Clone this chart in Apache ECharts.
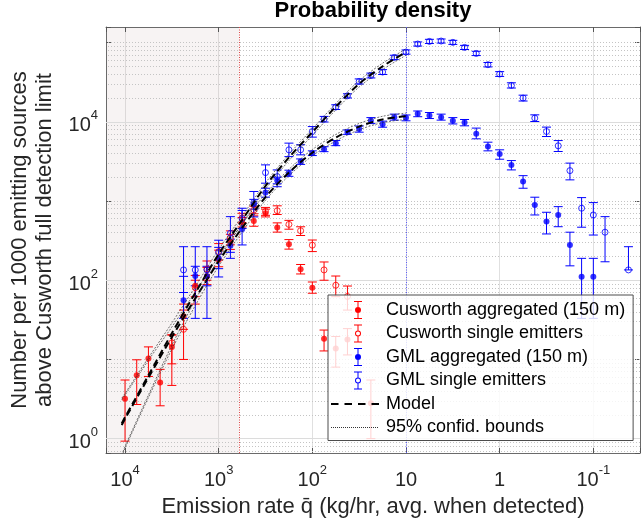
<!DOCTYPE html>
<html><head><meta charset="utf-8">
<script src="https://cdn.jsdelivr.net/npm/echarts@6/dist/echarts.min.js"></script>
<style>html,body{margin:0;padding:0;background:#fff}#c{width:641px;height:523px}</style>
</head><body><div id="c"></div><script>
// ---------------- DATA ----------------
// bin centres (kg/hr), 1/8-decade bins from 10^4 down to ~10^-1.4
const binX = [10000, 7499, 5623, 4217, 3162, 2371, 1778, 1334, 1000, 749.9, 562.3, 421.7, 316.2, 237.1, 177.8, 133.4, 100, 74.99, 56.23, 42.17, 31.62, 23.71, 17.78, 13.34, 10, 7.499, 5.623, 4.217, 3.162, 2.371, 1.778, 1.334, 1, 0.7499, 0.5623, 0.4217, 0.3162, 0.2371, 0.1778, 0.1334, 0.1, 0.07499, 0.05623, 0.04217];

// Cusworth aggregated (150 m)
const cusAggY  = [3.2, 6.3, 10.3, 5.1, 14.4, 35, 85, 112, 182, 304, 540, 560, 703, 462, 284, 138, 80.6, 18.2, 13.7, 17.8, null, 2.8];
const cusAggLo = [0.93, 2.7, 6.1, 2.6, 8.8, 24, 62, 88, 148, 245, 470, 480, 630, 405, 247, 120, 68.5, 12.8, 8.0, 11.4, null, 1.0];
const cusAggHi = [5.5, 9.9, 14.4, 7.5, 20.4, 50, 115, 145, 240, 380, 620, 650, 790, 530, 326, 158, 95, 23.5, 19.5, 24.5, null, 5.5];

// Cusworth single emitters
const cusSglY  = [null, null, null, null, 16.2, 24, 80.5, 138, 230, 340, 611, 771, 740, 754, 507, 422, 277, 135, 86.5, 62.4];
const cusSglLo = [null, null, null, null, 4.7, 10, 50, 100, 180, 280, 530, 690, 660, 676, 441, 367, 230, 100, 62, 42];
const cusSglHi = [null, null, null, null, 20.4, 42, 100, 175, 290, 420, 700, 860, 830, 870, 570, 473, 322, 170, 113, 84.5];

// GML aggregated (150 m)
const gmlAggY  = [null, null, null, null, null, 56, 113, 112, 190, 273, 441, 912, 1277, 1811, 2245, 3150, 4020, 4520, 5380, 7410, 8090, 10380, 9350, 11460, 11230, 12620, 12020, 11460, 10300, 9800, 7050, 4880, 3910, 2860, 1760, 893, 550, 667, 279, 111, 111];
const gmlAggLo = [null, null, null, null, null, 33, 85, 85, 140, 225, 279, 790, 1120, 1650, 2050, 2900, 3750, 4200, 5000, 6950, 7400, 9500, 8550, 10500, 10300, 11600, 11000, 10500, 9400, 8900, 6100, 4300, 3370, 2470, 1450, 667, 384, 474, 152, 33, 33];
const gmlAggHi = [null, null, null, null, null, 112, 150, 150, 260, 330, 811, 1050, 1450, 2000, 2450, 3400, 4300, 4850, 5800, 7900, 8850, 11300, 10200, 12500, 12200, 13700, 13100, 12500, 11300, 10700, 8330, 5530, 4430, 3240, 2090, 1117, 721, 849, 404, 189, 189];

// GML single emitters
const gmlSglY  = [null, null, null, null, null, 135, 135, 135, 225, 392, 600, 955, 2285, 2033, 4430, 4430, 7540, 10810, 15350, 21300, 32300, 38400, 42500, 65000, 76000, 96000, 103500, 104700, 100700, 86900, 73000, 52600, 40100, 28800, 19950, 11140, 7540, 4980, 2420, 811, 667, 404, null, 135];
const gmlSglLo = [null, null, null, null, null, 70, 33, 33, 110, 189, 450, 630, 1680, 1515, 3640, 3830, 6410, 9950, 14300, 20000, 30000, 35800, 39600, 61000, 71500, 90500, 97500, 98700, 94900, 81800, 68600, 49300, 37400, 26700, 18300, 10090, 6520, 4220, 1850, 467, 372, 171, null, 135];
const gmlSglHi = [null, null, null, null, null, 265, 265, 265, 320, 635, 760, 1320, 2860, 2470, 5380, 5130, 8710, 11700, 16400, 22600, 34800, 41200, 45600, 69300, 80800, 102000, 110000, 111000, 106800, 92300, 77700, 56100, 43000, 31100, 21700, 12250, 8570, 5800, 3010, 1104, 955, 635, null, 265];

// Model fits and 95% confidence bounds
const modelX   = [10840, 10000, 5623, 3162, 1778, 1000, 562.3, 316.2, 177.8, 100, 56.23, 31.62, 17.78, 10];
const modelSgl = [1.55, 1.86, 6.3, 21.4, 69, 214, 575, 1549, 3548, 7413, 15490, 30200, 50100, 75900];
const sglUpper = [3.24, 3.72, 10.5, 28.8, 83.2, 245, 646, 1698, 3890, 8130, 17000, 33100, 55000, 83200];
const sglLower = [0.617, 0.794, 3.55, 15.1, 56.2, 186, 513, 1413, 3236, 6761, 14130, 27540, 45700, 69200];
const modelAgg = [1.48, 1.78, 5.9, 19.1, 58.9, 174, 457, 1122, 2291, 4074, 6310, 8710, 10720, 11750];
const aggUpper = [3.09, 3.55, 9.77, 25.7, 70.8, 200, 513, 1230, 2512, 4467, 6918, 9550, 11750, 12880];
const aggLower = [0.589, 0.759, 3.31, 13.5, 47.9, 151, 407, 1023, 2089, 3715, 5754, 7943, 9772, 10720];

// reference lines
const detectLimit = 600;   // kg/hr, shaded region edge
const peakLine = 10;       // kg/hr

// axis extents
const X_MIN = 0.03175, X_MAX = 15960, Y_MIN = 0.659, Y_MAX = 157400;

// ---------------- CHART ----------------
const FONT = '"Liberation Sans", Arial, Helvetica, sans-serif';
const RED = '#ff0000', BLUE = '#0000ff';
const TXT = '#262626';
const NAMES = ['Cusworth aggregated (150 m)', 'Cusworth single emitters', 'GML aggregated (150 m)', 'GML single emitters', 'Model', '95% confid. bounds'];

function pts(xs, ys) { const o = []; for (let i = 0; i < ys.length; i++) if (ys[i] != null) o.push([xs[i], ys[i]]); return o; }
function errPts(xs, ys, lo, hi) { const o = []; for (let i = 0; i < ys.length; i++) if (ys[i] != null) o.push([xs[i], ys[i], lo[i], hi[i]]); return o; }

function errRender(color) {
  return function (params, api) {
    const x = api.value(0), lo = api.value(2), hi = api.value(3);
    const a = api.coord([x, hi]), b = api.coord([x, lo]);
    const w = 4.5;
    const st = { stroke: color, lineWidth: 1, fill: null };
    return { type: 'group', children: [
      { type: 'line', shape: { x1: a[0], y1: a[1], x2: b[0], y2: b[1] }, style: st },
      { type: 'line', shape: { x1: a[0] - w, y1: a[1], x2: a[0] + w, y2: a[1] }, style: st },
      { type: 'line', shape: { x1: b[0] - w, y1: b[1], x2: b[0] + w, y2: b[1] }, style: st }
    ]};
  };
}

function errSeries(name, color, xs, ys, lo, hi) {
  return { type: 'custom', name: name, renderItem: errRender(color), data: errPts(xs, ys, lo, hi),
    encode: { x: 0, y: 1 }, clip: true, silent: true, z: 2 };
}
function markSeries(name, color, xs, ys, hollow) {
  return { type: 'scatter', name: name, data: pts(xs, ys), symbol: 'circle', symbolSize: hollow ? 6 : 6,
    itemStyle: hollow ? { color: 'rgba(0,0,0,0)', borderColor: color, borderWidth: 1 } : { color: color, borderWidth: 0 },
    silent: true, z: 2 };
}

const rich = {
  b: { fontSize: 20, fontFamily: FONT, color: TXT, padding: [8, 0, 0, 0] },
  s: { fontSize: 13, fontFamily: FONT, color: TXT, padding: [0, 0, 12, 0] }
};
function xLabel(v) {
  const e = Math.log10(v), r = Math.round(e);
  if (Math.abs(e - r) > 0.01) return '';
  if (r === 0) return '{b|1}';
  if (r === 1) return '{b|10}';
  return '{b|10}{s|' + r + '}';
}
function yLabel(v) {
  const e = Math.log10(v), r = Math.round(e);
  if (Math.abs(e - r) > 0.01 || r % 2 !== 0) return '';
  return '{b|10}{s|' + r + '}';
}

// horizontal grid lines (major solid at even decades, minor dotted elsewhere)
const gridLines = [];
for (let e = -1; e <= 5; e++) {
  for (let m = 1; m <= 9; m++) {
    const v = m * Math.pow(10, e);
    if (v < Y_MIN || v > Y_MAX) continue;
    if (m === 1 && e % 2 === 0) {
      gridLines.push({ yAxis: v, lineStyle: { color: '#dcdcdc', type: 'solid', width: 1 } });
    } else {
      gridLines.push({ yAxis: v, lineStyle: { color: '#c4c4c4', type: [1, 2], width: 1 } });
    }
  }
}
gridLines.push({ xAxis: detectLimit, lineStyle: { color: '#e04848', type: [1, 1.5], width: 1 } });
gridLines.push({ xAxis: peakLine, lineStyle: { color: '#5a5aff', type: [1, 1.5], width: 1 } });

const ICON_FILLED = 'path://M0 0M50 20M23 1h8v1h-8zM26.5 2h1v5h-1zM26.5 13h1v5h-1zM23 18h8v1h-8zM24 10A3 3 0 1 0 30 10A3 3 0 1 0 24 10Z';
const ICON_HOLLOW = 'path://M0 0M50 20M23 1h8v1h-8zM26.5 2h1v5h-1zM26.5 13h1v5h-1zM23 18h8v1h-8zM24 10A3 3 0 1 0 30 10A3 3 0 1 0 24 10ZM25 10A2 2 0 1 1 29 10A2 2 0 1 1 25 10Z';
const ICON_DASH = 'path://M0 0M50 20M0 9h7.5v2h-7.5zM13.5 9h7.5v2h-7.5zM27 9h7.5v2h-7.5zM40.5 9h7.5v2h-7.5z';
let dots = 'path://M0 0M50 20';
for (let x = 0; x < 48; x += 2) dots += 'M' + x + ' 9.6h1v0.8h-1z';
const ICON_DOTS = dots;

const axisLineStyle = { color: '#6a6a6a', width: 1 };
const tickStyle = { color: '#555', width: 1 };

const option = {
  animation: false,
  backgroundColor: '#fff',
  title: { text: 'Probability density', left: 373, textAlign: 'center', top: 0, padding: 0,
    textStyle: { fontSize: 22, fontWeight: 'bold', color: '#000', fontFamily: FONT } },
  grid: { left: 106, right: 1, top: 27, bottom: 70, containLabel: false, outerBoundsMode: 'none' },
  legend: {
    left: 328, top: 295, orient: 'vertical', padding: [5, 8, 3, 3],
    itemWidth: 50, itemHeight: 20, itemGap: 3.5, symbolKeepAspect: false,
    backgroundColor: 'rgba(255,255,255,0.82)', borderColor: '#4d4d4d', borderWidth: 1,
    selectedMode: false,
    textStyle: { fontSize: 18, fontFamily: FONT, color: '#000', lineHeight: 20 },
    data: [
      { name: NAMES[0], icon: ICON_FILLED, itemStyle: { color: RED, borderWidth: 0 } },
      { name: NAMES[1], icon: ICON_HOLLOW, itemStyle: { color: RED, borderWidth: 0 } },
      { name: NAMES[2], icon: ICON_FILLED, itemStyle: { color: BLUE, borderWidth: 0 } },
      { name: NAMES[3], icon: ICON_HOLLOW, itemStyle: { color: BLUE, borderWidth: 0 } },
      { name: NAMES[4], icon: ICON_DASH, itemStyle: { color: '#000', borderWidth: 0 } },
      { name: NAMES[5], icon: ICON_DOTS, itemStyle: { color: '#333', borderWidth: 0 } }
    ]
  },
  xAxis: [
    { type: 'log', logBase: 10, min: X_MIN, max: X_MAX, inverse: true, position: 'bottom',
      axisLine: { show: true, lineStyle: axisLineStyle },
      axisTick: { show: true, inside: true, length: 5, lineStyle: tickStyle },
      axisLabel: { show: true, margin: 9, formatter: xLabel, rich: rich, showMinLabel: true, showMaxLabel: true },
      splitLine: { show: true, lineStyle: { color: '#e0e0e0', width: 1 } },
      name: 'Emission rate q\u0304 (kg/hr, avg. when detected)', nameLocation: 'middle', nameGap: 43,
      nameTextStyle: { fontSize: 22, color: TXT, fontFamily: FONT } },
    { type: 'log', logBase: 10, min: X_MIN, max: X_MAX, inverse: true, position: 'top',
      axisLine: { show: true, lineStyle: axisLineStyle },
      axisTick: { show: true, inside: true, length: 5, lineStyle: tickStyle },
      axisLabel: { show: false }, splitLine: { show: false } }
  ],
  yAxis: [
    { type: 'log', logBase: 10, min: Y_MIN, max: Y_MAX, position: 'left',
      axisLine: { show: true, lineStyle: axisLineStyle },
      axisTick: { show: true, inside: true, length: 5, lineStyle: tickStyle },
      axisLabel: { show: true, margin: 8, formatter: yLabel, rich: rich },
      splitLine: { show: false },
      name: 'Number per 1000 emitting sources\nabove Cusworth full detection limit',
      nameLocation: 'middle', nameGap: 46,
      nameTextStyle: { fontSize: 22, color: TXT, fontFamily: FONT, lineHeight: 25 } },
    { type: 'log', logBase: 10, min: Y_MIN, max: Y_MAX, position: 'right',
      axisLine: { show: true, lineStyle: axisLineStyle },
      axisTick: { show: true, inside: true, length: 5, lineStyle: tickStyle },
      axisLabel: { show: false }, splitLine: { show: false } }
  ],
  series: [
    { type: 'line', name: '__decor', data: [], silent: true, z: 1,
      markArea: { silent: true, z: 0, itemStyle: { color: 'rgba(200,170,170,0.14)' },
        data: [[{ xAxis: detectLimit }, { xAxis: X_MAX }]] },
      markLine: { silent: true, z: 1, symbol: ['none', 'none'], label: { show: false },
        animation: false, data: gridLines } },
    errSeries(NAMES[0], RED, binX, cusAggY, cusAggLo, cusAggHi),
    markSeries(NAMES[0], RED, binX, cusAggY, false),
    errSeries(NAMES[1], RED, binX, cusSglY, cusSglLo, cusSglHi),
    markSeries(NAMES[1], RED, binX, cusSglY, true),
    errSeries(NAMES[2], BLUE, binX, gmlAggY, gmlAggLo, gmlAggHi),
    markSeries(NAMES[2], BLUE, binX, gmlAggY, false),
    errSeries(NAMES[3], BLUE, binX, gmlSglY, gmlSglLo, gmlSglHi),
    markSeries(NAMES[3], BLUE, binX, gmlSglY, true),
    { type: 'line', name: NAMES[4], data: pts(modelX, modelSgl), symbol: 'none', smooth: 0.3, silent: true, z: 3,
      lineStyle: { color: '#000', width: 2, type: [7, 4] }, itemStyle: { color: '#000' } },
    { type: 'line', name: NAMES[4], data: pts(modelX, modelAgg), symbol: 'none', smooth: 0.3, silent: true, z: 3,
      lineStyle: { color: '#000', width: 2, type: [7, 4] }, itemStyle: { color: '#000' } },
    { type: 'line', name: NAMES[5], data: pts(modelX, sglUpper), symbol: 'none', smooth: 0.3, silent: true, z: 3,
      lineStyle: { color: '#333', width: 0.7, type: [2, 1.5] }, itemStyle: { color: '#333' } },
    { type: 'line', name: NAMES[5], data: pts(modelX, sglLower), symbol: 'none', smooth: 0.3, silent: true, z: 3,
      lineStyle: { color: '#333', width: 0.7, type: [2, 1.5] }, itemStyle: { color: '#333' } },
    { type: 'line', name: NAMES[5], data: pts(modelX, aggUpper), symbol: 'none', smooth: 0.3, silent: true, z: 3,
      lineStyle: { color: '#333', width: 0.7, type: [2, 1.5] }, itemStyle: { color: '#333' } },
    { type: 'line', name: NAMES[5], data: pts(modelX, aggLower), symbol: 'none', smooth: 0.3, silent: true, z: 3,
      lineStyle: { color: '#333', width: 0.7, type: [2, 1.5] }, itemStyle: { color: '#333' } }
  ]
};

const chart = echarts.init(document.getElementById('c'), null, { renderer: 'canvas' });
chart.setOption(option);
</script></body></html>
